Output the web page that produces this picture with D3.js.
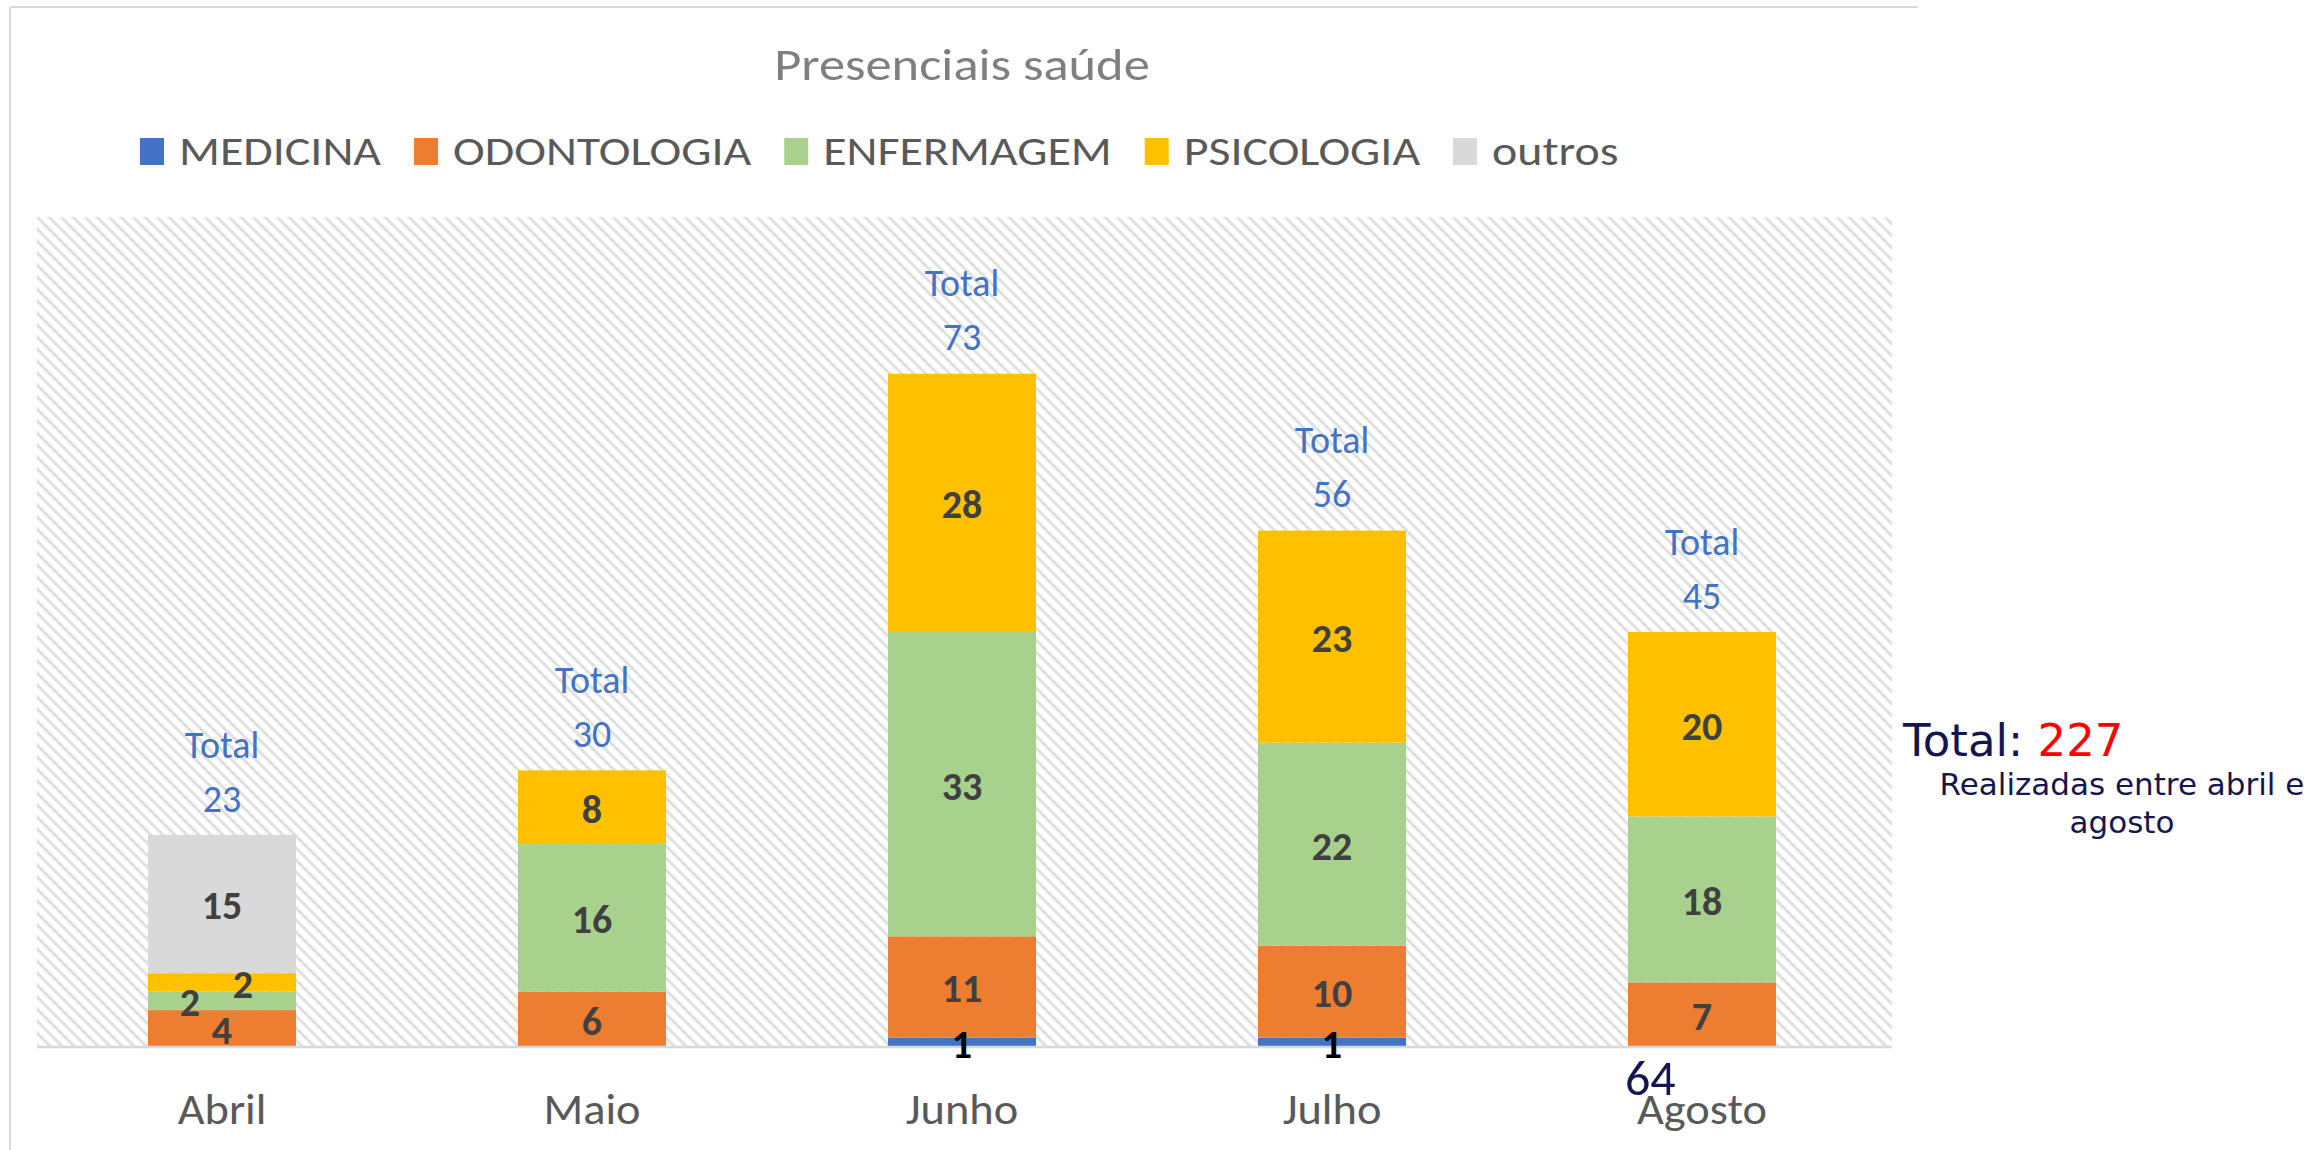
<!DOCTYPE html>
<html>
<head>
<meta charset="utf-8">
<script src="https://cdn.jsdelivr.net/npm/d3@7"></script>
<style>
  html, body { margin: 0; padding: 0; background: #ffffff; }
  svg { display: block; }
</style>
</head>
<body>
<div id="chart"></div>
<script>
// data
const months = ['Abril', 'Maio', 'Junho', 'Julho', 'Agosto'];
const seriesNames = ['MEDICINA', 'ODONTOLOGIA', 'ENFERMAGEM', 'PSICOLOGIA', 'outros'];
const medicina = [0, 0, 1, 1, 0];
const odontologia = [4, 6, 11, 10, 7];
const enfermagem = [2, 16, 33, 22, 18];
const psicologia = [2, 8, 28, 23, 20];
const outros = [15, 0, 0, 0, 0];
const yMax = 90;
const chartTitle = 'Presenciais saúde';
const noteLines = ['Realizadas entre abril e', 'agosto'];
const strayLabel = '64';

const seriesColors = ['#4472C4', '#ED7D31', '#A9D18E', '#FFC000', '#D9D9D9'];
const calibri = 'Carlito, Lato, "Open Sans", sans-serif';
const verdana = '"DejaVu Sans", Verdana, sans-serif';
const navy = '#16164f';

const W = 2320, H = 1150;
const plot = { left: 37, right: 1887, top: 217, bottom: 1047, hatchRight: 1892 };

// widen a text horizontally (the original font runs a little wider than Lato)
const stretch = (sel, k) => {
  const len = sel.node().getComputedTextLength();
  sel.attr('textLength', len * k).attr('lengthAdjust', 'spacingAndGlyphs');
  return len * k;
};

const rows = months.map((m, i) => ({
  month: m,
  MEDICINA: medicina[i],
  ODONTOLOGIA: odontologia[i],
  ENFERMAGEM: enfermagem[i],
  PSICOLOGIA: psicologia[i],
  outros: outros[i]
}));
const totals = rows.map(r => d3.sum(seriesNames, k => r[k]));
const grandTotal = d3.sum(totals);

const svg = d3.select('#chart')
  .append('svg')
  .attr('width', W)
  .attr('height', H);

svg.append('rect')
  .attr('width', W)
  .attr('height', H)
  .attr('fill', '#ffffff');

// hatch pattern for plot area
const defs = svg.append('defs');
const pat = defs.append('pattern')
  .attr('id', 'hatch')
  .attr('patternUnits', 'userSpaceOnUse')
  .attr('width', 12)
  .attr('height', 12);
pat.append('rect')
  .attr('width', 12)
  .attr('height', 12)
  .attr('fill', '#ffffff');
pat.append('path')
  .attr('d', 'M-3,-3 L15,15 M-3,9 L3,15 M9,-3 L15,3')
  .attr('stroke', '#e0e0e0')
  .attr('stroke-width', 3);

// chart border (top + left only visible)
svg.append('line')
  .attr('x1', 10).attr('y1', 7)
  .attr('x2', 1918).attr('y2', 7)
  .attr('stroke', '#d9d9d9')
  .attr('stroke-width', 2);
svg.append('line')
  .attr('x1', 10).attr('y1', 7)
  .attr('x2', 10).attr('y2', H)
  .attr('stroke', '#d9d9d9')
  .attr('stroke-width', 2);

svg.append('rect')
  .attr('x', plot.left)
  .attr('y', plot.top)
  .attr('width', plot.hatchRight - plot.left)
  .attr('height', plot.bottom - plot.top)
  .attr('fill', 'url(#hatch)');

// scales
const x = d3.scaleBand()
  .domain(months)
  .range([plot.left, plot.right])
  .paddingInner(0.6)
  .paddingOuter(0.3);
const y = d3.scaleLinear()
  .domain([0, yMax])
  .range([plot.bottom, plot.top]);

const stacked = d3.stack().keys(seriesNames)(rows);

// bars
const layers = svg.append('g')
  .selectAll('g')
  .data(stacked)
  .enter()
  .append('g')
  .attr('fill', (d, i) => seriesColors[i]);

layers.selectAll('rect')
  .data(d => d.filter(s => s[1] - s[0] > 0))
  .enter()
  .append('rect')
  .attr('x', d => x(d.data.month))
  .attr('y', d => y(d[1]))
  .attr('width', x.bandwidth())
  .attr('height', d => y(d[0]) - y(d[1]));

// axis line
svg.append('line')
  .attr('x1', plot.left)
  .attr('x2', plot.hatchRight)
  .attr('y1', plot.bottom)
  .attr('y2', plot.bottom)
  .attr('stroke', '#d9d9d9')
  .attr('stroke-width', 2.5);

// category labels
const xAxis = svg.append('g')
  .attr('transform', `translate(0,${plot.bottom})`)
  .call(d3.axisBottom(x).tickSize(0).tickPadding(0));
xAxis.select('.domain').remove();
xAxis.selectAll('text')
  .attr('y', 77)
  .attr('dy', 0)
  .style('font-family', calibri)
  .style('font-size', '43px')
  .style('fill', '#595959')
  .each(function () { stretch(d3.select(this), 1.08); });

// segment labels (a few were nudged by hand in the original)
const nudge = { 'Abril|ENFERMAGEM': -32, 'Abril|PSICOLOGIA': 21 };
stacked.forEach((layer, si) => {
  layer.forEach(s => {
    const v = s[1] - s[0];
    if (v <= 0) return;
    const key = s.data.month + '|' + layer.key;
    svg.append('text')
      .attr('x', x(s.data.month) + x.bandwidth() / 2 + (nudge[key] || 0))
      .attr('y', (y(s[0]) + y(s[1])) / 2 + 1)
      .attr('dy', '0.36em')
      .attr('text-anchor', 'middle')
      .style('font-family', calibri)
      .style('font-weight', 'bold')
      .style('font-size', '40px')
      .style('fill', layer.key === 'MEDICINA' ? '#000000' : '#404040')
      .text(v);
  });
});

// totals above bars
months.forEach((m, i) => {
  const cx = x(m) + x.bandwidth() / 2;
  const top = y(totals[i]);
  svg.append('text')
    .attr('x', cx)
    .attr('y', top - 91)
    .attr('dy', '0.36em')
    .attr('text-anchor', 'middle')
    .style('font-family', calibri)
    .style('font-size', '38px')
    .style('fill', '#4472C4')
    .text('Total');
  svg.append('text')
    .attr('x', cx)
    .attr('y', top - 37)
    .attr('dy', '0.36em')
    .attr('text-anchor', 'middle')
    .style('font-family', calibri)
    .style('font-size', '38px')
    .style('fill', '#4472C4')
    .text(totals[i]);
});

// title
const title = svg.append('text')
  .attr('x', 962)
  .attr('y', 80)
  .attr('text-anchor', 'middle')
  .style('font-family', calibri)
  .style('font-size', '46px')
  .style('fill', '#7f7f7f')
  .text(chartTitle);
stretch(title, 1.14);

// legend
const legend = svg.append('g').attr('transform', 'translate(140,0)');
let lx = 0;
seriesNames.forEach((name, i) => {
  legend.append('rect')
    .attr('x', lx)
    .attr('y', 138)
    .attr('width', 24)
    .attr('height', 27)
    .attr('fill', seriesColors[i]);
  const t = legend.append('text')
    .attr('x', lx + 39)
    .attr('y', 165)
    .style('font-family', calibri)
    .style('font-size', '42px')
    .style('fill', '#595959')
    .text(name);
  lx += 39 + stretch(t, 1.14) + 33;
});

// side note
const grand = svg.append('text')
  .attr('x', 1903)
  .attr('y', 756)
  .style('font-family', verdana)
  .style('font-size', '45px');
grand.append('tspan').style('fill', navy).text('Total: ');
grand.append('tspan').style('fill', '#ff0000').text(grandTotal);

noteLines.forEach((line, i) => {
  svg.append('text')
    .attr('x', 2122)
    .attr('y', 795 + i * 38)
    .attr('text-anchor', 'middle')
    .style('font-family', verdana)
    .style('font-size', '31px')
    .style('fill', navy)
    .text(line);
});

svg.append('text')
  .attr('x', 1625)
  .attr('y', 1095)
  .style('font-family', calibri)
  .style('font-size', '50px')
  .style('fill', navy)
  .text(strayLabel);
</script>
</body>
</html>
